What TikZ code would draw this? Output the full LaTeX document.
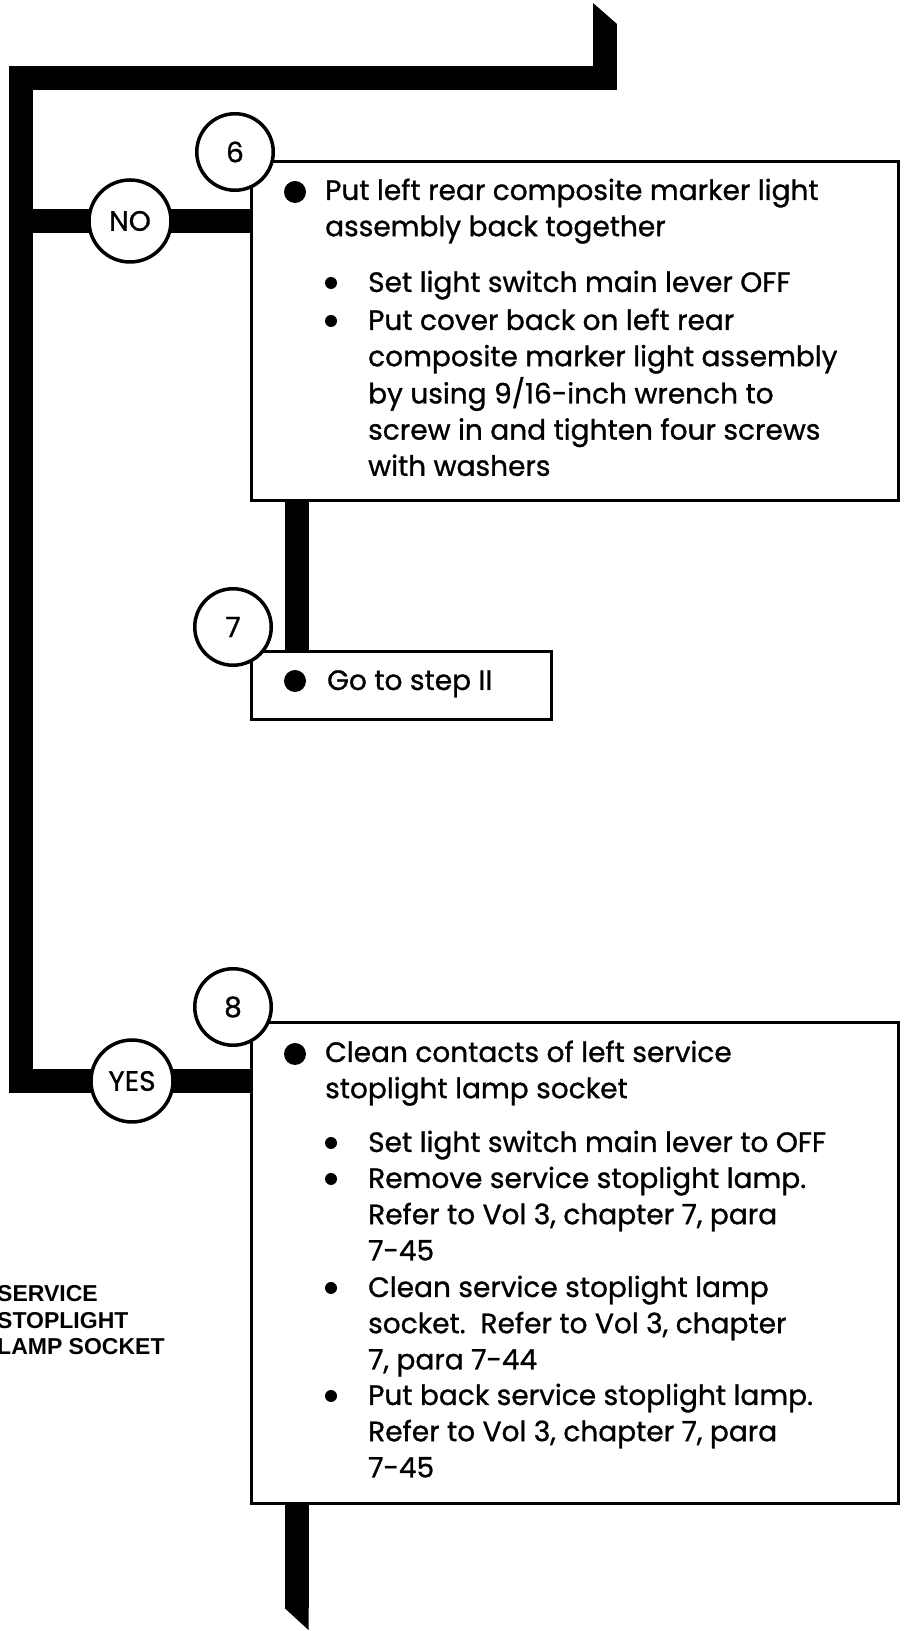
\documentclass[tikz,border=0pt]{standalone}
\usepackage{fontspec}
\setmainfont{Poppins}[FakeBold=1]
\newfontfamily\calloutfont{Liberation Sans}
\usetikzlibrary{backgrounds}

\newcommand\steptext{\fontsize{28}{36.2}\selectfont}
\newcommand\lines[1]{\begin{tabular}[t]{@{}l@{}}#1\end{tabular}}

\begin{document}
\begin{tikzpicture}[x=1pt,y=1pt,line join=miter,
  flowbar/.style={line width=24pt},
  stepnum/.style={circle,draw,line width=3.5pt,fill=white,inner sep=0pt,
    minimum size=76.5pt,font=\steptext},
  answer/.style={stepnum,minimum size=82pt},
  stepbox/.style={draw,line width=3pt,fill=white,anchor=north west,inner sep=0pt},
  dot/.style={circle,fill,inner sep=0pt,minimum size=22pt},
  subdot/.style={circle,fill,inner sep=0pt,minimum size=12pt},
  txt/.style={anchor=base west,inner sep=0pt,font=\steptext}]
\path[use as bounding box] (0,0) rectangle (904,1631);

% step boxes
\node[stepbox,minimum width=647pt,minimum height=339pt] (box6) at (250,1471) {};
\node[stepbox,minimum width=300pt,minimum height=68pt] (box7) at (250,981) {};
\node[stepbox,minimum width=647pt,minimum height=481pt] (box8) at (250,610) {};

% answer and step circles
\node[answer] (no) at (130,1410) {NO};
\node[answer] (yes) at (132,550) {YES};
\node[stepnum] (s6) at (235,1479) {6};
\node[stepnum] (s7) at (233,1004) {7};
\node[stepnum] (s8) at (233,624) {8};

% heavy flow lines, behind boxes and circles
\coordinate (entry) at (605,1607);
\coordinate (corner) at (21,1553);
\coordinate (exit) at (296.5,23);
\begin{scope}[on background layer]
  \fill[white] (0,0) rectangle (904,1631);
  \draw[flowbar] (entry) -- (entry |- corner) -- (corner) -- (corner |- yes)
    -- (yes -| box8.west);
  \draw[flowbar] (corner |- no) -- (no -| box6.west);
  \draw[flowbar] ([xshift=46.5pt]box6.south west) -- ([xshift=46.5pt]box7.north west);
  \draw[flowbar] ([xshift=46.5pt]box8.south west) -- (exit);
  \fill ([xshift=-12pt]entry) -- ++(0,21) -- ([xshift=12pt]entry) -- cycle;
  \fill ([xshift=-12pt]exit) -- ([xshift=12pt]exit) -- ++(0,-22) -- cycle;
\end{scope}

% step 6
\node[dot] (d6) at (295,1439) {};
\node[txt] (t6) at (325,1431)
  {\lines{Put left rear composite marker light\\assembly back together}};
\node[subdot] (d6a) at (331,1348) {};
\node[txt] (t6a) at (368,1339) {Set light switch main lever OFF};
\node[subdot] (d6b) at (331,1310) {};
\node[txt] (t6b) at (368,1301)
  {\lines{Put cover back on left rear\\composite marker light assembly\\
   by using 9/16-inch wrench to\\screw in and tighten four screws\\with washers}};

% step 7
\node[dot] (d7) at (295,950) {};
\node[txt] (t7) at (327,941) {Go to step II};

% step 8
\node[dot] (d8) at (295,577) {};
\node[txt] (t8) at (325,569)
  {\lines{Clean contacts of left service\\stoplight lamp socket}};
\node[subdot] (d8a) at (331,488) {};
\node[txt] (t8a) at (368,479) {Set light switch main lever to OFF};
\node[subdot] (d8b) at (331,452) {};
\node[txt] (t8b) at (368,443)
  {\lines{Remove service stoplight lamp.\\Refer to Vol 3, chapter 7, para\\7-45}};
\node[subdot] (d8c) at (331,343) {};
\node[txt] (t8c) at (368,334)
  {\lines{Clean service stoplight lamp\\socket.\ \ Refer to Vol 3, chapter\\7, para 7-44}};
\node[subdot] (d8d) at (331,235) {};
\node[txt] (t8d) at (368,226)
  {\lines{Put back service stoplight lamp.\\Refer to Vol 3, chapter 7, para\\7-45}};

% callout at the left edge
\node[anchor=base west,inner sep=0pt,
  font=\calloutfont\bfseries\fontsize{23}{26.5}\selectfont] (lamp) at (-3,329)
  {\lines{SERVICE\\STOPLIGHT\\LAMP SOCKET}};
\end{tikzpicture}
\end{document}
